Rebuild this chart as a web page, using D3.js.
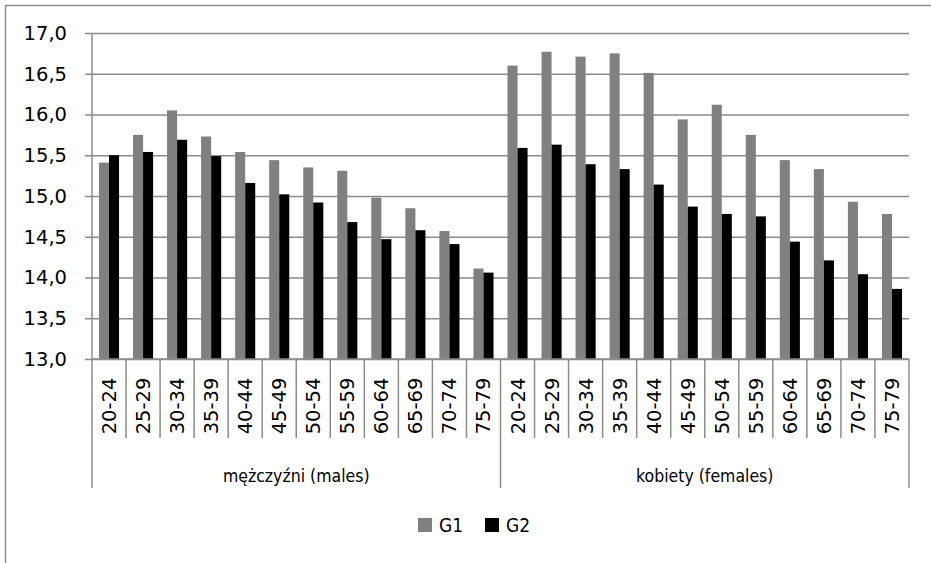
<!DOCTYPE html>
<html>
<head>
<meta charset="utf-8">
<script src="https://cdn.jsdelivr.net/npm/d3@7"></script>
<style>
  body { margin: 0; background: #fff; }
  svg text { fill: #000; }
</style>
</head>
<body>
<div id="chart"></div>
<script>
// age bands, repeated for both sexes
var ageGroups = ["20-24", "25-29", "30-34", "35-39", "40-44", "45-49", "50-54", "55-59", "60-64", "65-69", "70-74", "75-79"];
var sexGroups = ["mężczyźni (males)", "kobiety (females)"];
var seriesNames = ["G1", "G2"];
var seriesColors = ["#808080", "#000000"];

var g1Males = [15.41, 15.75, 16.05, 15.73, 15.54, 15.44, 15.35, 15.31, 14.98, 14.85, 14.57, 14.11];
var g2Males = [15.50, 15.54, 15.69, 15.49, 15.16, 15.02, 14.92, 14.68, 14.47, 14.58, 14.41, 14.06];
var g1Females = [16.60, 16.77, 16.71, 16.75, 16.51, 15.94, 16.12, 15.75, 15.44, 15.33, 14.93, 14.78];
var g2Females = [15.59, 15.63, 15.39, 15.33, 15.14, 14.87, 14.78, 14.75, 14.44, 14.21, 14.04, 13.86];

var yTicks = [13, 13.5, 14, 14.5, 15, 15.5, 16, 16.5, 17];

var width = 931, height = 563;
var margin = {left: 92, right: 22, top: 33, bottom: 204};
var plotW = width - margin.left - margin.right;
var plotH = height - margin.top - margin.bottom;

var rows = [];
sexGroups.forEach(function(s, si) {
	var a = si === 0 ? g1Males : g1Females;
	var b = si === 0 ? g2Males : g2Females;
	ageGroups.forEach(function(age, i) {
		rows.push({key: si + "|" + age, sex: s, age: age, values: [a[i], b[i]]});
	});
});

var svg = d3.select("#chart").append("svg")
	.attr("width", width)
	.attr("height", height);

// outer chart frame (runs off the bottom/right of the picture)
svg.append("rect")
	.attr("x", 5.5).attr("y", 5.5)
	.attr("width", 960).attr("height", 600)
	.attr("fill", "none")
	.attr("stroke", "#8c8c8c")
	.attr("stroke-width", 1.5);

var g = svg.append("g").attr("transform", "translate(" + margin.left + "," + margin.top + ")");

var x = d3.scaleBand()
	.domain(rows.map(function(d) { return d.key; }))
	.range([0, plotW])
	.paddingInner(0.41)
	.paddingOuter(0.205);

var xSeries = d3.scaleBand()
	.domain(seriesNames)
	.range([0, x.bandwidth()]);

var y = d3.scaleLinear()
	.domain([13, 17])
	.range([plotH, 0]);

// gridlines + tick stubs
var yAxis = d3.axisLeft(y)
	.tickValues(yTicks)
	.tickSize(-plotW - 7)
	.tickFormat(function(d) { return d3.format(".1f")(d).replace(".", ","); });

var yg = g.append("g")
	.attr("transform", "translate(" + (-7) + ",0)")
	.call(yAxis);
yg.select(".domain").remove();
yg.selectAll(".tick line")
	.attr("stroke", "#8c8c8c")
	.attr("stroke-width", 1.5);
yg.selectAll(".tick text")
	.attr("x", -18)
	.style("font-family", "DejaVu Sans")
	.style("font-size", "19.5px");

// bars
var groups = g.selectAll(".cat")
	.data(rows)
	.enter()
	.append("g")
	.attr("class", "cat")
	.attr("transform", function(d) { return "translate(" + x(d.key) + ",0)"; });

groups.selectAll("rect")
	.data(function(d) {
		return d.values.map(function(v, i) { return {name: seriesNames[i], value: v, color: seriesColors[i]}; });
	})
	.enter()
	.append("rect")
	.attr("x", function(d) { return xSeries(d.name); })
	.attr("width", xSeries.bandwidth())
	.attr("y", function(d) { return y(d.value); })
	.attr("height", function(d) { return plotH - y(d.value); })
	.attr("fill", function(d) { return d.color; });

// vertical axis line
g.append("line")
	.attr("x1", 0).attr("x2", 0)
	.attr("y1", 0).attr("y2", plotH)
	.attr("stroke", "#8c8c8c")
	.attr("stroke-width", 1.5);

// category separators and labels
var step = x.step();
d3.range(rows.length + 1).forEach(function(i) {
	var edge = i * step;
	var isGroupEdge = i % ageGroups.length === 0;
	g.append("line")
		.attr("x1", edge).attr("x2", edge)
		.attr("y1", plotH)
		.attr("y2", plotH + (isGroupEdge ? 129 : 79))
		.attr("stroke", "#8c8c8c")
		.attr("stroke-width", 1.5);
});

g.selectAll(".age-label")
	.data(rows)
	.enter()
	.append("text")
	.attr("class", "age-label")
	.attr("transform", function(d) {
		return "translate(" + (x(d.key) + x.bandwidth() / 2 + 7) + "," + (plotH + 47) + ") rotate(-90)";
	})
	.attr("text-anchor", "middle")
	.style("font-family", "DejaVu Sans")
	.style("font-size", "19.5px")
	.text(function(d) { return d.age; });

g.selectAll(".sex-label")
	.data(sexGroups)
	.enter()
	.append("text")
	.attr("class", "sex-label")
	.attr("x", function(d, i) { return (i + 0.5) * ageGroups.length * step; })
	.attr("y", plotH + 123)
	.attr("text-anchor", "middle")
	.style("font-family", "'DejaVu Sans Condensed', 'Liberation Sans Narrow', Lato, sans-serif")
	.style("font-size", "17.5px")
	.text(function(d) { return d; });

// line along the category axis
g.append("line")
	.attr("x1", 0).attr("x2", plotW)
	.attr("y1", plotH).attr("y2", plotH)
	.attr("stroke", "#8c8c8c")
	.attr("stroke-width", 1.5);

// legend
var legend = svg.append("g").attr("transform", "translate(418,518)");
var lg = legend.selectAll("g")
	.data(seriesNames)
	.enter()
	.append("g")
	.attr("transform", function(d, i) { return "translate(" + (i * 67) + ",0)"; });
lg.append("rect")
	.attr("width", 14).attr("height", 14)
	.attr("fill", function(d, i) { return seriesColors[i]; });
lg.append("text")
	.attr("x", 21).attr("y", 14)
	.style("font-family", "'DejaVu Sans Condensed', 'Liberation Sans Narrow', Lato, sans-serif")
	.style("font-size", "19px")
	.text(function(d) { return d; });
</script>
</body>
</html>
